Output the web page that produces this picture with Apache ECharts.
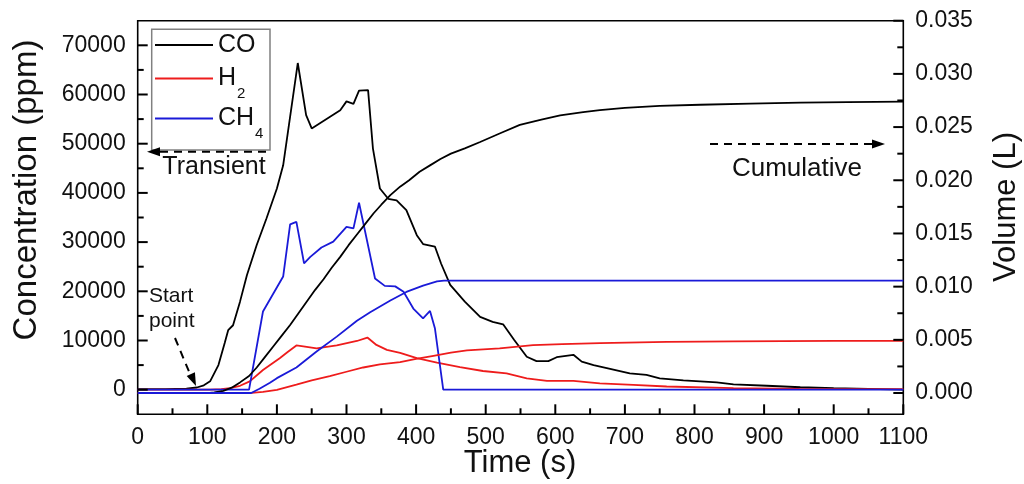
<!DOCTYPE html>
<html>
<head>
<meta charset="utf-8">
<script src="https://cdn.jsdelivr.net/npm/echarts@6/dist/echarts.min.js"></script>
<style>
  html, body { margin: 0; padding: 0; background: #fff; }
  #chart { width: 1024px; height: 484px; }
</style>
</head>
<body>
<div id="chart"></div>
<script>
// Transient concentrations (ppm), left axis
const coTime   = [0, 40, 70, 85, 95, 104, 116, 125, 130, 137, 147, 157, 171, 185, 200, 209, 230, 242, 250, 291, 300, 310, 318, 331, 338, 348, 360, 372, 386, 401, 410, 427, 436, 449, 470, 492, 510, 525, 541, 559, 573, 590, 602, 626, 638, 655, 674, 707, 731, 750, 784, 832, 856, 904, 952, 1000, 1050, 1100];
const coConc   = [100, 100, 200, 450, 900, 1700, 5000, 9500, 12100, 13100, 17900, 23300, 29400, 34800, 40900, 45600, 66400, 55800, 53100, 56800, 58600, 58100, 60800, 60900, 49000, 40900, 38800, 38500, 36500, 31400, 29600, 29100, 25600, 21300, 17900, 14800, 13800, 13300, 10100, 6700, 5800, 5800, 6600, 7100, 5700, 5000, 4400, 3300, 3000, 2300, 1900, 1500, 1100, 800, 500, 300, 150, 0];

const h2Time   = [0, 104, 120, 133, 147, 161, 180, 204, 215, 228, 238, 257, 286, 315, 330, 343, 358, 377, 401, 430, 463, 496, 530, 559, 588, 626, 664, 712, 760, 856, 951, 1100];
const h2Conc   = [0, 0, 100, 300, 800, 1700, 4000, 6400, 7600, 9000, 8800, 8400, 9000, 9900, 10600, 9100, 8100, 7500, 6400, 5500, 4600, 3800, 3300, 2300, 1800, 1800, 1300, 1000, 650, 300, 160, 100];

const ch4Time  = [0, 160, 180, 209, 219, 228, 239, 248, 264, 281, 300, 310, 318, 341, 355, 370, 382, 396, 410, 420, 427, 439, 1100];
const ch4Conc  = [0, 0, 15900, 23000, 33600, 34100, 25700, 27000, 28900, 30100, 33100, 32800, 38000, 22600, 21100, 21000, 19900, 16500, 14500, 16000, 12500, 0, 0];

// Cumulative volumes (L), right axis
const coVolTime  = [0, 100, 110, 123, 135, 147, 160, 171, 183, 195, 207, 219, 231, 243, 255, 267, 279, 291, 303, 315, 327, 339, 350, 363, 377, 390, 405, 420, 435, 450, 470, 492, 520, 549, 580, 607, 640, 664, 700, 750, 808, 880, 952, 1020, 1100];
const coVol      = [0, 0, 0.00005, 0.0002, 0.0005, 0.001, 0.0016, 0.0024, 0.0034, 0.0044, 0.0054, 0.0064, 0.0075, 0.0086, 0.0097, 0.0107, 0.0118, 0.0128, 0.0139, 0.0149, 0.0159, 0.0169, 0.0177, 0.0186, 0.0194, 0.0200, 0.0208, 0.0214, 0.0220, 0.0225, 0.0230, 0.0236, 0.0244, 0.0252, 0.0257, 0.0261, 0.0264, 0.0266, 0.0268, 0.0270, 0.0271, 0.0272, 0.0273, 0.02735, 0.0274];

const h2VolTime  = [0, 160, 180, 200, 228, 250, 276, 300, 324, 348, 377, 400, 425, 450, 473, 520, 568, 610, 664, 760, 856, 1000, 1100];
const h2Vol      = [0, 0, 0.0001, 0.0003, 0.0008, 0.0012, 0.0016, 0.0020, 0.0024, 0.0027, 0.0029, 0.0032, 0.0035, 0.0038, 0.0040, 0.0042, 0.0045, 0.0046, 0.0047, 0.0048, 0.00486, 0.0049, 0.0049];

const ch4VolTime = [0, 163, 175, 190, 200, 228, 257, 286, 315, 334, 363, 386, 410, 430, 440, 1100];
const ch4Vol     = [0, 0, 0.0004, 0.00096, 0.0014, 0.0024, 0.0039, 0.0053, 0.0068, 0.0076, 0.0087, 0.0095, 0.0101, 0.0105, 0.01057, 0.01057];

// Axis tick values
const timeMajor = [0, 100, 200, 300, 400, 500, 600, 700, 800, 900, 1000, 1100];
const timeMinor = [50, 150, 250, 350, 450, 550, 650, 750, 850, 950, 1050];
const concMajor = [0, 10000, 20000, 30000, 40000, 50000, 60000, 70000];
const concMinor = [5000, 15000, 25000, 35000, 45000, 55000, 65000];
const volMajor  = [0, 0.005, 0.010, 0.015, 0.020, 0.025, 0.030, 0.035];
const volMinor  = [0.0025, 0.0075, 0.0125, 0.0175, 0.0225, 0.0275, 0.0325];

const FONT = '"Liberation Sans", Arial, sans-serif';
const BLACK = '#000000', RED = '#ee1c1c', BLUE = '#1a1ad8';
const MAJOR_LEN = 10, MINOR_LEN = 6, TICK_W = 2;
const CONC_MIN = -5000, CONC_MAX = 75000, VOL_MIN = -0.002, VOL_MAX = 0.035, T_MIN = 0, T_MAX = 1100;
const GRID = { left: 137.7, right: 120.7, top: 20.7, bottom: 69.7 };
const W = 1024, H = 484;

const pair = (ts, vs) => ts.map((t, i) => [t, vs[i]]);

const chart = echarts.init(document.getElementById('chart'), null, { renderer: 'canvas', width: W, height: H });

const labelStyle = { fontSize: 23, color: '#111', fontFamily: FONT };
const plain = v => String(v);
const hidden = { show: false, onZero: false };

function line(name, data, color, yIdx) {
  return {
    name, type: 'line', data, yAxisIndex: yIdx,
    showSymbol: false, symbol: 'none', color,
    lineStyle: { color, width: 1.8 },
    animation: false
  };
}

const legendRich = {
  m: { fontSize: 25, fontFamily: FONT, color: '#111' },
  s: { fontSize: 15, fontFamily: FONT, color: '#111', padding: [30, 0, 0, 1] }
};
function legendFmt(name) {
  if (name === 'H2') return '{m|H}{s|2}';
  if (name === 'CH4') return '{m|CH}{s|4}';
  return '{m|' + name + '}';
}
function legendAt(name, top) {
  return {
    data: [name], orient: 'vertical', left: 155, top, padding: 0,
    icon: 'rect', itemWidth: 58, itemHeight: 2, selectedMode: false,
    formatter: legendFmt,
    textStyle: { fontSize: 25, fontFamily: FONT, color: '#111', rich: legendRich }
  };
}

function arrowHead(tip, dir, len, half) {
  const n = Math.hypot(dir[0], dir[1]);
  const d = [dir[0] / n, dir[1] / n];
  const b = [tip[0] - len * d[0], tip[1] - len * d[1]];
  const p = [-d[1], d[0]];
  return {
    type: 'polygon', z: 10,
    shape: { points: [tip, [b[0] + half * p[0], b[1] + half * p[1]], [b[0] - half * p[0], b[1] - half * p[1]]] },
    style: { fill: '#000' }
  };
}
function dashed(x1, y1, x2, y2) {
  return {
    type: 'line', z: 10,
    shape: { x1, y1, x2, y2 },
    style: { stroke: '#000', lineWidth: 2, lineDash: [8, 6] }
  };
}
function label(text, x, y, size, align, rotation) {
  return {
    type: 'text', z: 10, x, y, rotation: rotation || 0,
    style: { text, fontSize: size, fontFamily: FONT, fill: '#111', align: align || 'center', verticalAlign: 'middle' }
  };
}

const decorations = [
  // legend frame
  { type: 'rect', z: 5, shape: { x: 151.7, y: 29.3, width: 118.3, height: 120.7 }, style: { fill: 'transparent', stroke: '#808080', lineWidth: 1.5 } },
  // axis titles
  label('Concentration (ppm)', 27, 190, 33, 'center', Math.PI / 2),
  label('Volume (L)', 1006, 207, 31, 'center', Math.PI / 2),
  label('Time (s)', 520, 463, 31, 'center'),
  // annotations
  dashed(160, 151.7, 270, 151.7),
  arrowHead([147, 151.7], [-1, 0], 13, 4.5),
  label('Transient', 214, 167, 25, 'center'),
  dashed(710, 144, 872, 144),
  arrowHead([885, 144], [1, 0], 13, 4.5),
  label('Cumulative', 797, 169, 26, 'center'),
  label('Start', 149, 296, 21, 'left'),
  label('point', 149, 321, 21, 'left'),
  dashed(175, 338, 190, 374),
  arrowHead([196, 386], [21, 48], 13, 4.5)
];

// Pixel position of a value: ask the chart's scales, with the grid's linear map as a fallback
function toPx(t, yIdx, v) {
  let p = null;
  try { p = chart.convertToPixel({ xAxisIndex: 0, yAxisIndex: yIdx }, [t, v]); } catch (e) { p = null; }
  if (p && isFinite(p[0]) && isFinite(p[1])) return p;
  const x0 = GRID.left, x1 = W - GRID.right, y0 = H - GRID.bottom, y1 = GRID.top;
  const lo = yIdx === 0 ? CONC_MIN : VOL_MIN, hi = yIdx === 0 ? CONC_MAX : VOL_MAX;
  return [x0 + (t - T_MIN) / (T_MAX - T_MIN) * (x1 - x0), y0 + (v - lo) / (hi - lo) * (y1 - y0)];
}

function buildTicks() {
  const bottomY = toPx(T_MIN, 0, CONC_MIN)[1];
  const leftX = toPx(T_MIN, 0, 0)[0];
  const rightX = toPx(T_MAX, 0, 0)[0];
  const tickEl = (x1, y1, x2, y2) => ({ type: 'line', z: 20, shape: { x1, y1, x2, y2 }, style: { stroke: '#000', lineWidth: TICK_W } });
  const ticks = [];
  timeMajor.forEach(t => { const x = toPx(t, 0, 0)[0]; ticks.push(tickEl(x, bottomY, x, bottomY - MAJOR_LEN)); });
  timeMinor.forEach(t => { const x = toPx(t, 0, 0)[0]; ticks.push(tickEl(x, bottomY, x, bottomY - MINOR_LEN)); });
  concMajor.forEach(v => { const y = toPx(0, 0, v)[1]; ticks.push(tickEl(leftX, y, leftX + MAJOR_LEN, y)); });
  concMinor.forEach(v => { const y = toPx(0, 0, v)[1]; ticks.push(tickEl(leftX, y, leftX + MINOR_LEN, y)); });
  volMajor.forEach(v => { const y = toPx(0, 1, v)[1]; ticks.push(tickEl(rightX, y, rightX - MAJOR_LEN, y)); });
  volMinor.forEach(v => { const y = toPx(0, 1, v)[1]; ticks.push(tickEl(rightX, y, rightX - MINOR_LEN, y)); });
  return ticks;
}

const option = {
  backgroundColor: '#fff',
  animation: false,
  grid: Object.assign({ show: true, borderColor: '#000', borderWidth: 1.6, backgroundColor: 'transparent' }, GRID),
  legend: [legendAt('CO', 32.5), legendAt('H2', 66), legendAt('CH4', 106)],
  xAxis: {
    type: 'value', min: T_MIN, max: T_MAX, interval: 100,
    axisLine: hidden, axisTick: { show: false },
    axisLabel: Object.assign({ margin: 12, formatter: plain }, labelStyle),
    splitLine: { show: false }
  },
  yAxis: [
    {
      type: 'value', position: 'left', min: CONC_MIN, max: CONC_MAX,
      axisLine: hidden, axisTick: { show: false }, splitLine: { show: false },
      axisLabel: Object.assign({ margin: 12, customValues: concMajor, formatter: plain }, labelStyle)
    },
    {
      type: 'value', position: 'right', min: VOL_MIN, max: VOL_MAX,
      axisLine: hidden, axisTick: { show: false }, splitLine: { show: false },
      axisLabel: Object.assign({ margin: 12, customValues: volMajor, formatter: v => v.toFixed(3) }, labelStyle)
    }
  ],
  series: [
    line('CO',  pair(coTime, coConc), BLACK, 0),
    line('H2',  pair(h2Time, h2Conc), RED, 0),
    line('CH4', pair(ch4Time, ch4Conc), BLUE, 0),
    line('CO',  pair(coVolTime, coVol), BLACK, 1),
    line('H2',  pair(h2VolTime, h2Vol), RED, 1),
    line('CH4', pair(ch4VolTime, ch4Vol), BLUE, 1)
  ],
  graphic: decorations
};

chart.setOption(option);

// Add the inward ticks once the axes have been laid out
let ticksAdded = false;
function addTicks() {
  if (ticksAdded) return;
  ticksAdded = true;
  chart.setOption({ graphic: decorations.concat(buildTicks()) });
}
chart.on('finished', addTicks);
setTimeout(addTicks, 50);
</script>
</body>
</html>
